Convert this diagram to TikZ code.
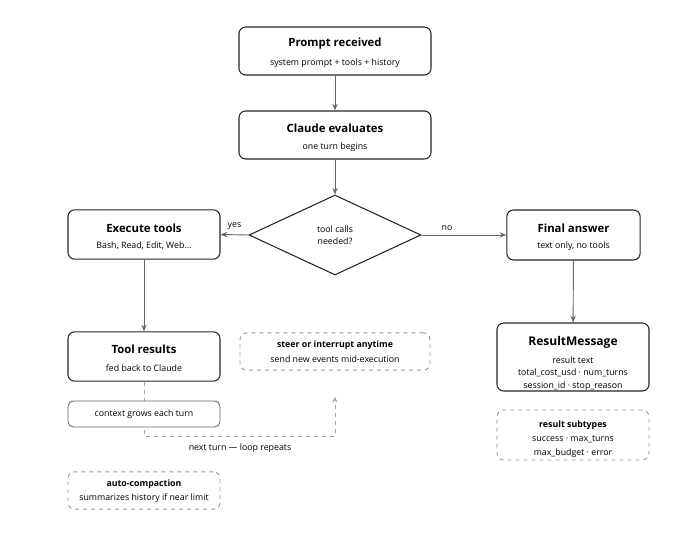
\documentclass[tikz,border=0pt]{standalone}
\usepackage{fontspec}
\setmainfont{Open Sans}
\usetikzlibrary{shapes.geometric,arrows.meta}
\begin{document}
\begin{tikzpicture}[x=0.75pt,y=-0.75pt,
  box/.style={draw=black!85,line width=0.8pt,rounded corners=5pt,fill=white,align=center,inner sep=0},
  dbox/.style={draw=black!40,dashed,line width=0.7pt,rounded corners=5pt,align=center,inner sep=0},
  tbox/.style={draw=black!60,line width=0.6pt,rounded corners=4pt,fill=white,align=center,inner sep=0},
  ttl/.style={font=\bfseries\fontsize{8.5}{10}\selectfont},
  sub/.style={font=\fontsize{6.6}{8}\selectfont},
  arr/.style={draw=black!60,line width=0.7pt,-{Stealth[length=5pt,width=4pt]}},
  lbl/.style={font=\fontsize{6.6}{8}\selectfont}]
\useasboundingbox (0,0) rectangle (682,535);
\node[box,minimum width=144pt,minimum height=36pt] (p) at (335,51) {};
\node[ttl] at (335,44) {Prompt received};
\node[sub] at (335,63) {system prompt + tools + history};
\node[box,minimum width=144pt,minimum height=36pt] (c) at (335,135) {};
\node[ttl] at (335,128) {Claude evaluates};
\node[sub] at (335,147) {one turn begins};
\node[draw=black!85,line width=0.8pt,diamond,aspect=2.15,minimum width=129pt,minimum height=60pt,inner sep=0,fill=white] (d) at (335,235) {};
\node[sub,align=center] at (335,235) {tool calls\\[1pt]needed?};
\node[box,minimum width=114pt,minimum height=37pt] (e) at (144,234.5) {};
\node[ttl] at (144,228) {Execute tools};
\node[sub] at (144,246) {Bash, Read, Edit, Web...};
\node[box,minimum width=100pt,minimum height=37.5pt] (f) at (573.5,235) {};
\node[ttl] at (573.5,228) {Final answer};
\node[sub] at (573.5,246) {text only, no tools};
\node[box,minimum width=114pt,minimum height=37pt] (t) at (144,356.5) {};
\node[ttl] at (144,349) {Tool results};
\node[sub] at (144,368) {fed back to Claude};
\node[dbox,minimum width=142.5pt,minimum height=28pt] (s) at (335,351.5) {};
\node[sub,font=\bfseries\fontsize{6.6}{8}\selectfont] at (335,345) {steer or interrupt anytime};
\node[sub] at (335,359) {send new events mid-execution};
\coordinate (lc) at (144,436);
\coordinate (rc) at (335,436);
\coordinate (up) at (335,397);
\draw[dashed,draw=black!35,line width=0.7pt,-{Stealth[length=4pt,width=4pt]}] (t.south) -- (lc) -- (rc) -- (up);
\node[tbox,minimum width=114pt,minimum height=19.5pt] (g) at (144,414) {};
\node[sub] at (144,414) {context grows each turn};
\node[lbl] (nt) at (240,448) {next turn — loop repeats};
\node[dbox,minimum width=114pt,minimum height=28pt] (a) at (144,490.5) {};
\node[sub,font=\bfseries\fontsize{6.6}{8}\selectfont] at (144,484) {auto-compaction};
\node[sub] at (144,498) {summarizes history if near limit};
\node[box,minimum width=114pt,minimum height=51pt] (r) at (573,357) {};
\node[ttl,font=\bfseries\fontsize{9}{10}\selectfont] at (573,342) {ResultMessage};
\node[sub] at (573,360) {result text};
\node[sub] at (573,373) {total\_cost\_usd · num\_turns};
\node[sub] at (573,386) {session\_id · stop\_reason};
\node[dbox,minimum width=114pt,minimum height=37.5pt] (st) at (573,435) {};
\node[sub,font=\bfseries\fontsize{6.6}{8}\selectfont] at (573,425) {result subtypes};
\node[sub] at (573,439) {success · max\_turns};
\node[sub] at (573,453) {max\_budget · error};
\draw[arr] (p) -- (c);
\draw[arr] (c) -- (d.north);
\draw[arr] (d.west) -- (e.east) node[lbl,pos=0.5,above=0pt] {yes};
\draw[arr] (d.east) -- (f.west) node[lbl,pos=0.3,above=0pt] {no};
\draw[arr] (e) -- (t);
\draw[arr] (f) -- (r);
\end{tikzpicture}
\end{document}
